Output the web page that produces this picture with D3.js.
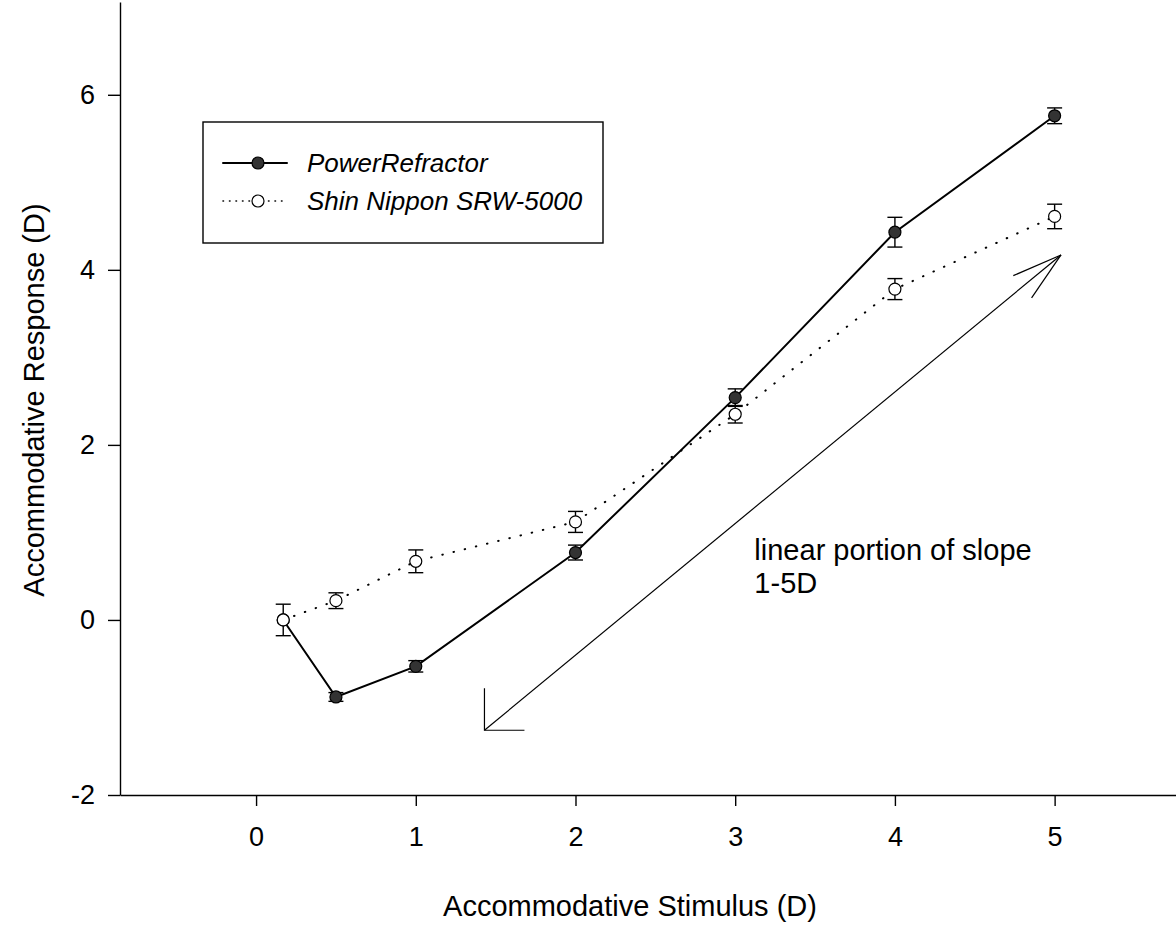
<!DOCTYPE html>
<html lang="en">
<head>
    <meta charset="UTF-8">
    <title>Accommodative response</title>
    <script src="https://cdn.jsdelivr.net/npm/d3@7"></script>
    <style>
        body { margin: 0; background: #fff; }
        svg text { font-family: "Liberation Sans", Arial, sans-serif; fill: #000; }
    </style>
</head>
<body>
    <svg id="mainsvg" width="1176" height="930"></svg>
    <script>
        // data
        const stimulus = [0.17, 0.5, 1, 2, 3, 4, 5];
        const powerRefractor = [0.0, -0.88, -0.53, 0.77, 2.54, 4.43, 5.76];
        const powerRefractorErr = [0, 0.05, 0.065, 0.085, 0.1, 0.17, 0.09];
        const shinNippon = [0.0, 0.22, 0.67, 1.12, 2.35, 3.78, 4.61];
        const shinNipponErr = [0.18, 0.09, 0.13, 0.12, 0.1, 0.12, 0.14];
        const xTicks = [0, 1, 2, 3, 4, 5];
        const yTicks = [-2, 0, 2, 4, 6];
        const seriesNames = ["PowerRefractor", "Shin Nippon SRW-5000"];
        const arrowFrom = [1.43, -1.26];   // stimulus, response
        const arrowTo = [5.04, 4.17];
        const noteLines = ["linear portion of slope", "1-5D"];

        const svg = d3.select("svg");
        const x = d3.scaleLinear().domain([-0.852, 5.76]).range([120, 1176]);
        const y = d3.scaleLinear().domain([-2, 7.06]).range([795, 2]);

        // axes
        const xAxis = svg.append("g")
            .attr("transform", `translate(0, ${y(-2)})`)
            .call(d3.axisBottom(x).tickValues(xTicks).tickFormat(d => String(d))
                .tickSizeInner(11).tickSizeOuter(0).tickPadding(21));
        const yAxis = svg.append("g")
            .attr("transform", `translate(${x.range()[0]}, 0)`)
            .call(d3.axisLeft(y).tickValues(yTicks).tickFormat(d => String(d))
                .tickSizeInner(12).tickSizeOuter(0).tickPadding(13));
        [xAxis, yAxis].forEach(a => {
            a.selectAll("path, line").attr("stroke", "#000").attr("stroke-width", 1.4);
            a.selectAll("text").attr("font-size", 27).style("font-family", '"Liberation Sans", Arial, sans-serif');
        });

        svg.append("text")
            .attr("x", 630).attr("y", 916)
            .attr("text-anchor", "middle")
            .attr("font-size", 29)
            .text("Accommodative Stimulus (D)");
        svg.append("text")
            .attr("transform", "translate(44, 400) rotate(-90)")
            .attr("text-anchor", "middle")
            .attr("font-size", 29)
            .text("Accommodative Response (D)");

        const line = d3.line().x(d => x(d[0])).y(d => y(d[1]));
        const pr = stimulus.map((s, i) => [s, powerRefractor[i], powerRefractorErr[i]]);
        const sn = stimulus.map((s, i) => [s, shinNippon[i], shinNipponErr[i]]);

        // connecting lines
        svg.append("path")
            .attr("d", line(sn))
            .attr("fill", "none")
            .attr("stroke", "#000")
            .attr("stroke-width", 2)
            .attr("stroke-linecap", "round")
            .attr("stroke-dasharray", "0.5,11");
        svg.append("path")
            .attr("d", line(pr))
            .attr("fill", "none")
            .attr("stroke", "#000")
            .attr("stroke-width", 2);

        // error bars
        function errorBars(data, cls) {
            const g = svg.append("g").attr("class", cls);
            const bars = g.selectAll("g").data(data.filter(d => d[2] > 0)).join("g");
            bars.append("line")
                .attr("x1", d => x(d[0])).attr("x2", d => x(d[0]))
                .attr("y1", d => y(d[1] - d[2])).attr("y2", d => y(d[1] + d[2]));
            [-1, 1].forEach(sign => {
                bars.append("line")
                    .attr("x1", d => x(d[0]) - 7.5).attr("x2", d => x(d[0]) + 7.5)
                    .attr("y1", d => y(d[1] + sign * d[2])).attr("y2", d => y(d[1] + sign * d[2]));
            });
            g.selectAll("line").attr("stroke", "#000").attr("stroke-width", 1.4);
        }
        errorBars(pr, "pr-err");
        errorBars(sn, "sn-err");

        svg.append("g").selectAll("circle")
            .data(pr)
            .join("circle")
            .attr("cx", d => x(d[0])).attr("cy", d => y(d[1]))
            .attr("r", 6)
            .attr("fill", "#333")
            .attr("stroke", "#000")
            .attr("stroke-width", 1.2);
        svg.append("g").selectAll("circle")
            .data(sn)
            .join("circle")
            .attr("cx", d => x(d[0])).attr("cy", d => y(d[1]))
            .attr("r", 6)
            .attr("fill", "#fff")
            .attr("stroke", "#000")
            .attr("stroke-width", 1.2);

        // annotation arrow
        const ax0 = x(arrowFrom[0]), ay0 = y(arrowFrom[1]);
        const ax1 = x(arrowTo[0]), ay1 = y(arrowTo[1]);
        const ang = Math.atan2(ay0 - ay1, ax0 - ax1);
        const arrow = svg.append("g").attr("stroke", "#000").attr("stroke-width", 1.2).attr("fill", "none");
        arrow.append("line").attr("x1", ax0).attr("y1", ay0).attr("x2", ax1).attr("y2", ay1);
        [-0.28, 0.28].forEach(da => {
            arrow.append("line")
                .attr("x1", ax1).attr("y1", ay1)
                .attr("x2", ax1 + 52 * Math.cos(ang + da))
                .attr("y2", ay1 + 52 * Math.sin(ang + da));
        });
        arrow.append("path")
            .attr("d", `M${ax0},${ay0 - 42}L${ax0},${ay0}L${ax0 + 40},${ay0}`);

        const note = svg.append("text")
            .attr("x", x(3.12)).attr("y", y(0.686))
            .attr("font-size", 29);
        note.selectAll("tspan").data(noteLines).join("tspan")
            .attr("x", x(3.12))
            .attr("dy", (d, i) => i === 0 ? 0 : 33)
            .text(d => d);

        // legend
        const legend = svg.append("g").attr("transform", "translate(203, 122)");
        legend.append("rect")
            .attr("width", 400).attr("height", 121)
            .attr("fill", "#fff").attr("stroke", "#000").attr("stroke-width", 1.4);
        const rows = legend.selectAll(".row").data(seriesNames).join("g")
            .attr("class", "row")
            .attr("transform", (d, i) => `translate(0, ${41 + i * 38})`);
        rows.append("line")
            .attr("x1", 20).attr("x2", 84)
            .attr("stroke", "#000")
            .attr("stroke-width", (d, i) => i === 0 ? 2 : 1.6)
            .attr("stroke-linecap", "round")
            .attr("stroke-dasharray", (d, i) => i === 0 ? null : "0.5,6");
        rows.append("circle")
            .attr("cx", 55).attr("r", 6)
            .attr("fill", (d, i) => i === 0 ? "#333" : "#fff")
            .attr("stroke", "#000").attr("stroke-width", 1.2);
        rows.append("text")
            .attr("x", 104).attr("dy", "0.35em")
            .attr("font-size", 26)
            .attr("font-style", "italic")
            .text(d => d);
    </script>
</body>
</html>
